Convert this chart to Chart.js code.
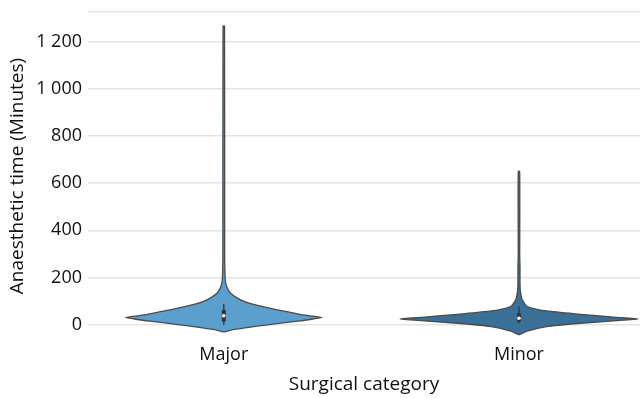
<!DOCTYPE html>
<html>
<head>
<meta charset="utf-8">
<script src="https://cdn.jsdelivr.net/npm/chart.js@4.4.1/dist/chart.umd.min.js"></script>
<style>
  html, body { margin: 0; padding: 0; background: #fff; }
  #wrap { width: 644px; height: 398px; }
</style>
</head>
<body>
<div id="wrap"><canvas id="chart"></canvas></div>
<script>
const categories = ['Major', 'Minor'];

// density profile of each violin: minute levels and half-widths (in category units)
const majorLevels = [-31, -20, -10, -1, 8, 16, 24, 30, 36, 44, 58, 72, 88, 105, 133, 161, 190, 300, 1265];
const majorWidths = [0, 0.036, 0.09, 0.148, 0.2, 0.258, 0.302, 0.332, 0.302, 0.258, 0.2, 0.148, 0.094, 0.057, 0.023, 0.01, 0.005, 0.003, 0.0025];
const minorLevels = [-43, -27, -8, 6, 16, 24, 32, 44, 58, 77, 105, 140, 170, 240, 300, 500, 650];
const minorWidths = [0, 0.028, 0.094, 0.208, 0.319, 0.403, 0.319, 0.208, 0.094, 0.028, 0.011, 0.005, 0.0035, 0.0035, 0.0025, 0.0028, 0.0022];

// inner box: [whisker low, q1, median, q3, whisker high]
const majorBox = [0, 13, 38, 62, 88];
const minorBox = [6, 13, 27, 48, 77];

const yTicks = [0, 200, 400, 600, 800, 1000, 1200];
const yMin = -65, yMax = 1325;

const fills = ['#5b9fcf', '#3a6f98'];
const outline = '#4a4a4a';

function violin(pos, levels, widths) {
  const pts = [];
  levels.forEach((v, i) => pts.push({ x: pos + widths[i], y: v }));
  for (let i = levels.length - 1; i >= 0; i--) pts.push({ x: pos - widths[i], y: levels[i] });
  return pts;
}

const datasets = [];
[[majorLevels, majorWidths, majorBox], [minorLevels, minorWidths, minorBox]].forEach(([lv, wd, box], i) => {
  datasets.push({
    data: violin(i, lv, wd), order: 3,
    showLine: true, fill: 'shape', tension: 0.2,
    backgroundColor: fills[i], borderColor: outline, borderWidth: 1.3,
    pointRadius: 0
  });
  datasets.push({
    data: [{ x: i, y: box[0] }, { x: i, y: box[4] }], order: 2,
    showLine: true, borderColor: '#333', borderWidth: 1.3, pointRadius: 0
  });
  datasets.push({
    data: [{ x: i, y: box[1] }, { x: i, y: box[3] }], order: 1,
    showLine: true, borderColor: '#333', borderWidth: 4, borderCapStyle: 'butt', pointRadius: 0
  });
  datasets.push({
    data: [{ x: i, y: box[2] }], order: 0,
    pointRadius: 1.8, pointBackgroundColor: '#fff', pointBorderWidth: 0
  });
});

const tickFont = { family: '"Open Sans", sans-serif', size: 18 };
const titleFont = { family: '"Open Sans", sans-serif', size: 19 };

new Chart(document.getElementById('chart'), {
  type: 'scatter',
  data: { datasets },
  options: {
    responsive: true,
    maintainAspectRatio: false,
    animation: false,
    layout: { padding: { top: 12, right: 0, left: 0, bottom: 0 } },
    plugins: { legend: { display: false }, tooltip: { enabled: false } },
    scales: {
      x: {
        type: 'linear', min: -0.46, max: 1.41,
        afterBuildTicks: s => { s.ticks = categories.map((c, i) => ({ value: i })); },
        afterFit: s => { s.height = 58; s.paddingLeft = 0; s.paddingRight = 0; },
        ticks: { callback: v => categories[v], color: '#111', font: tickFont, padding: 4 },
        grid: { display: false, drawTicks: false },
        border: { display: false },
        title: { display: true, text: 'Surgical category', color: '#111', font: titleFont, padding: { top: 0, bottom: 2 } }
      },
      y: {
        min: yMin, max: yMax,
        afterBuildTicks: s => { s.ticks = yTicks.concat([yMax]).map(v => ({ value: v })); },
        afterFit: s => { s.width = 88; s.paddingTop = 0; s.paddingBottom = 0; },
        ticks: {
          callback: v => v === yMax ? '' : String(v).replace(/\B(?=(\d{3})+(?!\d))/g, ' '),
          color: '#111', font: tickFont, padding: 6
        },
        grid: { color: '#e4e4e4', lineWidth: 1.4, drawTicks: false },
        border: { display: false },
        title: { display: true, text: 'Anaesthetic time (Minutes)', color: '#111', font: titleFont, padding: { top: 6, bottom: 0 } }
      }
    }
  }
});
</script>
</body>
</html>
